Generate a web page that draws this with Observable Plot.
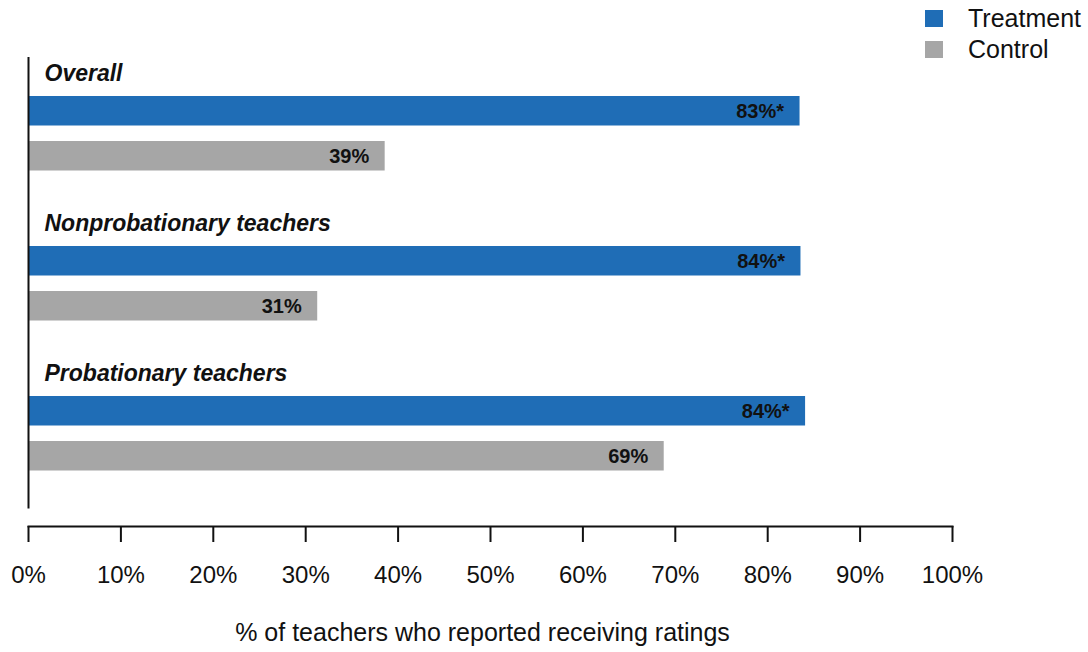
<!DOCTYPE html>
<html><head><meta charset="utf-8">
<script src="https://cdn.jsdelivr.net/npm/d3@7"></script>
<script src="https://cdn.jsdelivr.net/npm/@observablehq/plot@0.6"></script>
<style>
html,body{margin:0;padding:0;background:#fff;}
#wrap{position:relative;width:1088px;height:652px;}
#legend{position:absolute;left:925px;top:3px;font:25px "Liberation Sans",Arial,sans-serif;color:#111;}
.item{display:flex;align-items:center;height:31px;white-space:nowrap;}
.sw{width:18px;height:17px;margin-right:25px;flex:none;}
</style></head>
<body><div id="wrap"><div id="legend"></div></div>
<script>
const groups = ["Overall", "Nonprobationary teachers", "Probationary teachers"];
const series = ["Treatment", "Control"];
const treatment = [83.5, 83.6, 84.1];
const control = [38.6, 31.3, 68.8];
const treatmentLabels = ["83%*", "84%*", "84%*"];
const controlLabels = ["39%", "31%", "69%"];
const xTicks = [0, 10, 20, 30, 40, 50, 60, 70, 80, 90, 100];
const colors = ["#1f6db6", "#a6a6a6"];
const xTitle = "% of teachers who reported receiving ratings";

const rows = groups.map((g, i) => ({
  group: g, treatment: treatment[i], control: control[i],
  tl: treatmentLabels[i], cl: controlLabels[i]
}));

const font = '"Liberation Sans", Arial, Helvetica, sans-serif';

const chart = Plot.plot({
  width: 1088, height: 652,
  marginLeft: 28, marginRight: 136, marginTop: 57, marginBottom: 126,
  style: {fontFamily: font, color: "#111", background: "#fff"},
  x: {domain: [0, 100], label: null},
  y: {domain: groups, range: [57, 508.5], padding: 0, axis: null},
  marks: [
    Plot.barX(rows, {y: "group", x: "treatment", fill: colors[0], insetTop: 38, insetBottom: 82.5}),
    Plot.barX(rows, {y: "group", x: "control", fill: colors[1], insetTop: 83, insetBottom: 37.5}),
    Plot.text(rows, {y: "group", x: "treatment", text: "tl", textAnchor: "end", dx: -16, dy: -22.25, fontSize: 20, fontWeight: "bold", fill: "#111"}),
    Plot.text(rows, {y: "group", x: "control", text: "cl", textAnchor: "end", dx: -16, dy: 22.75, fontSize: 20, fontWeight: "bold", fill: "#111"}),
    Plot.text(rows, {y: "group", frameAnchor: "left", text: "group", textAnchor: "start", dx: 16, dy: -60.25, fontSize: 23, fontWeight: "bold", fontStyle: "italic", fill: "#111"}),
    Plot.ruleX([0], {insetBottom: 17.5, stroke: "#111", strokeWidth: 2}),
    Plot.axisX({ticks: xTicks, tickFormat: d => d + "%", tickSize: 16, tickPadding: 23, fontSize: 24, label: null, stroke: "#111", strokeWidth: 2}),
    Plot.frame({anchor: "bottom", stroke: "#111", strokeWidth: 2}),
    Plot.text([xTitle], {frameAnchor: "bottom", lineAnchor: "middle", dx: -8, dy: 106, fontSize: 25, fill: "#111"})
  ]
});
document.getElementById("wrap").appendChild(chart);

const legend = document.getElementById("legend");
series.forEach((s, i) => {
  const item = document.createElement("div");
  item.className = "item";
  const sw = document.createElement("span");
  sw.className = "sw";
  sw.style.background = colors[i];
  const t = document.createElement("span");
  t.textContent = s;
  item.appendChild(sw);
  item.appendChild(t);
  legend.appendChild(item);
});
</script>
</body></html>
